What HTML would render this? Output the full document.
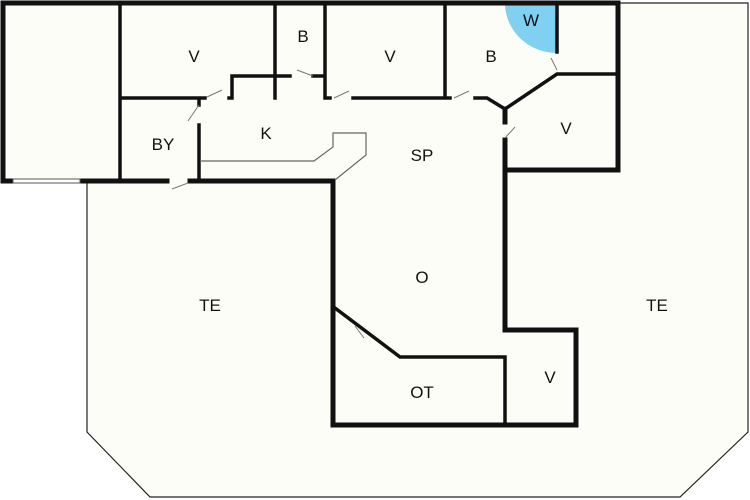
<!DOCTYPE html>
<html><head><style>body{margin:0;background:#fff}svg{display:block}text{font-family:"Liberation Sans",sans-serif;font-size:17px;fill:#111;text-anchor:middle}</style></head><body>
<svg width="750" height="500" viewBox="0 0 750 500">
<rect width="750" height="500" fill="#fff"/>
<polygon points="87,181 3,181 3,3 748,3 748,432 680,497 150,497 87,432" fill="#fdfdf8" stroke="#222" stroke-width="1.2"/>
<path d="M557,3 A52,52 0 0 1 505,3 L505,3 Z" fill="none"/>
<path d="M557,3 L505,3 A52,50 0 0 0 557,53 Z" fill="#80d0f2"/>
<g stroke="#111" fill="none" stroke-linecap="square">
<path d="M3,3 H618 V170 H505 V140 M505,122 V109 M3,3 V181 H13 M80,181 H167 M190,181 H333 V425 H576 V330 H505 V170" stroke-width="5"/>
<rect x="13" y="179" width="67" height="4" fill="#fff" stroke="#555" stroke-width="1"/>
<path d="M120,3 V181 M120,98 H200 M199,98 V105 M199,125 V181 M205,98 H200 M229,98 H232 V76 H290 M313,76 H325 M275,3 V98 M325,3 V98 H330 M353,98 H445 V3 M445,98 H450 M475,98 H487 L505,109 L557,74 H618 M557,3 V52 M335,308 L400,357 H505 V425" stroke-width="3.5"/>
</g>
<path d="M200,161 H314 L333,147 V133 H366 V155 L335,180" stroke="#666" fill="none" stroke-width="1.2"/>
<g stroke="#777" stroke-width="1">
<path d="M207,97 L222,90 M199,105 L188,121 M297,70 L313,76 M334,98 L349,91 M454,98 L469,91 M551,58 L557,70 M505,138 L515,127 M172,189 L188,183 M355,326 L364,338"/>
</g>
<text x="194" y="62">V</text><text x="303" y="42">B</text><text x="390" y="62">V</text><text x="491" y="62">B</text><text x="531" y="26">W</text>
<text x="163" y="150">BY</text><text x="266" y="139">K</text><text x="422" y="161">SP</text><text x="566" y="134">V</text>
<text x="422" y="283">O</text><text x="210" y="311">TE</text><text x="657" y="311">TE</text><text x="422" y="398">OT</text><text x="550" y="383">V</text>
</svg>
</body></html>
